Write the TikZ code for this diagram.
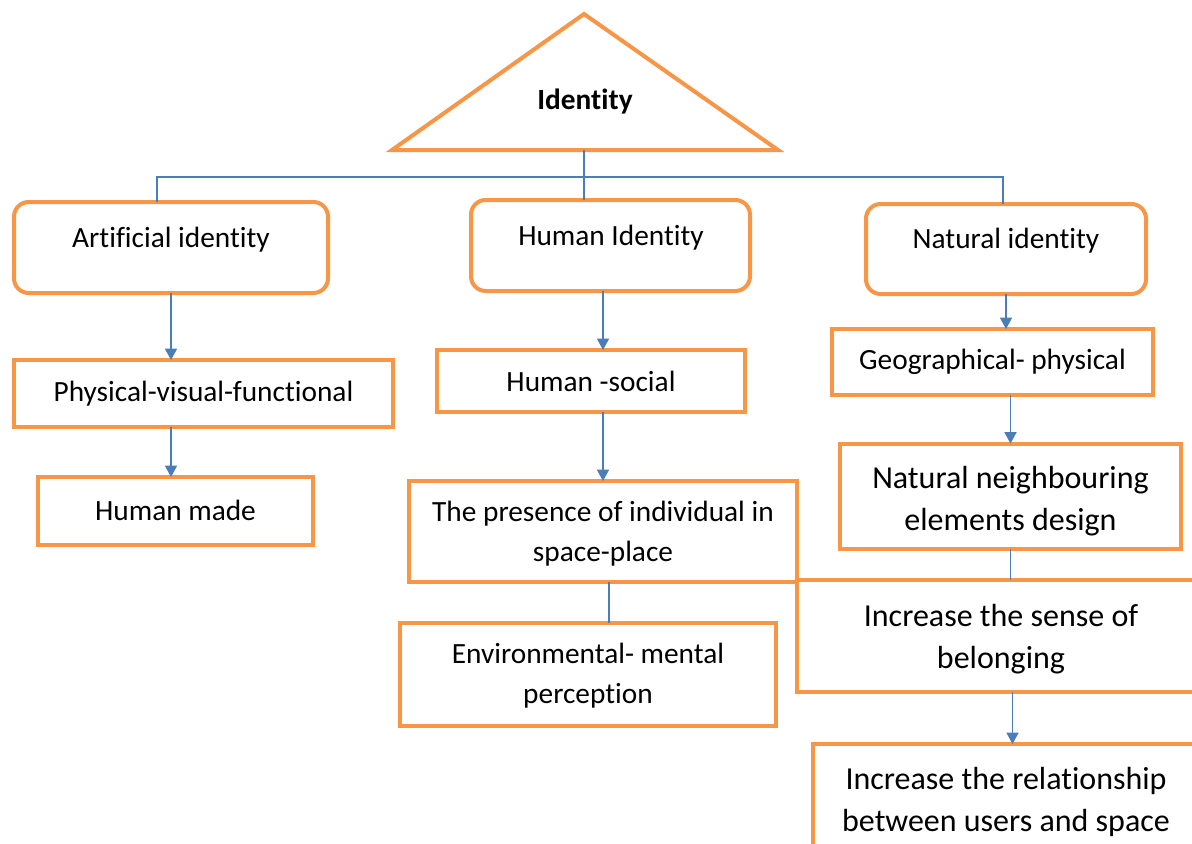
\documentclass[tikz,border=0pt]{standalone}
\usepackage{fontspec}
\setmainfont[Ligatures=NoCommon]{Carlito}
\usetikzlibrary{arrows.meta}
\definecolor{borange}{HTML}{F79646}
\definecolor{lblue}{HTML}{4A7EBB}
\tikzset{
  box/.style={draw=borange, line width=3pt, fill=white, inner sep=0pt, outer sep=0pt, align=center, font=\fontsize{22}{30}\selectfont},
  rbox/.style={box, rounded corners=11pt},
  bigbox/.style={box, font=\fontsize{24}{32}\selectfont},
  lbl/.style={font=\fontsize{22}{30}\selectfont, inner sep=0pt, align=center},
  biglbl/.style={lbl, font=\fontsize{24}{32}\selectfont},
  link/.style={draw=lblue, line width=1.1pt},
  arr/.style={link, -{Triangle[width=9pt,length=8.5pt]}}
}
\begin{document}
\begin{tikzpicture}[x=0.75pt, y=-0.75pt]
\useasboundingbox (0,0) rectangle (1192,843);
\clip (0,0) rectangle (1192,843);
\fill[white] (0,0) rectangle (1192,843);

% triangle
\draw[borange, line width=3pt, line join=miter] (584,14) -- (778,150) -- (392,150) -- cycle;
\node[font=\fontsize{22}{26}\selectfont\bfseries, inner sep=0pt] (idt) at (585,102) {Identity};
\coordinate (tri) at (584,150);
\coordinate (jl) at (157,177);
\coordinate (jr) at (1003,177);

% top level rounded boxes
\node[rbox, minimum width=235.5pt, minimum height=68.25pt] (art) at (171,247.5) {};
\node[lbl] (artT) at (171,240) {Artificial identity};
\node[rbox, minimum width=209.25pt, minimum height=68.25pt] (hid) at (610.5,245.5) {};
\node[lbl] (hidT) at (611,238) {Human Identity};
\node[rbox, minimum width=210pt, minimum height=67.5pt] (nat) at (1006,249) {};
\node[lbl] (natT) at (1006,241) {Natural identity};

% left column
\node[box, minimum width=284.25pt, minimum height=50.25pt] (pvf) at (203.5,393.5) {Physical-visual-functional};
\node[box, minimum width=206.25pt, minimum height=51pt] (hm) at (175.5,511) {};
\node[lbl] (hmT) at (175.5,510) {Human made};

% middle column
\node[box, minimum width=231pt, minimum height=46.5pt] (hs) at (591,381) {Human -social};
\node[box, minimum width=291pt, minimum height=75.75pt] (pres) at (603,531.5) {};
\node[lbl] (presT) at (603,534) {The presence of individual in\\space-place};

% right column
\node[box, minimum width=240.75pt, minimum height=49.5pt] (geo) at (992.5,362) {Geographical- physical};
\node[box, minimum width=255.75pt, minimum height=78.75pt] (nn) at (1010.5,496) {};
\node[biglbl] (nnT) at (1010.5,501) {Natural neighbouring\\elements design};
\node[box, minimum width=306pt, minimum height=84pt] (sense) at (1001,636) {};
\node[biglbl] (senseT) at (1001,639) {Increase the sense of\\belonging};
\node[box, minimum width=282pt, minimum height=77.25pt] (env) at (588,674.5) {};
\node[lbl] (envT) at (588,676) {Environmental- mental\\perception};
\node[box, minimum width=290.25pt, minimum height=87pt] (rel) at (1006.5,802) {};
\node[biglbl] (relT) at (1006,802) {Increase the relationship\\between users and space};
% redraw bottom edge of presence box over sense box
\draw[borange, line width=3pt] (pres.south west) -- (pres.south east);

% connectors
\draw[link] (tri) -- (tri |- hid.north);
\draw[link] ([xshift=-10.5pt]art.north) -- ([xshift=-10.5pt]art.north |- jl) -- (jr) -- (jr |- nat.north);
\draw[arr] (art.south) -- (art.south |- pvf.north);
\draw[arr] (pvf.south -| art.south) -- (hm.north -| art.south);
\draw[arr] (hid.south -| pres.north) -- (hs.north -| pres.north);
\draw[arr] (hs.south -| pres.north) -- (pres.north);
\draw[link] ([xshift=4.5pt]pres.south) -- ([xshift=4.5pt]pres.south |- env.north);
\draw[arr] (nat.south) -- (nat.south |- geo.north);
\draw[arr] (geo.south -| nn.north) -- (nn.north);
\draw[link] (nn.south) -- (nn.south |- sense.north);
\draw[arr] ([xshift=1.5pt]sense.south -| nn.south) -- ([xshift=1.5pt]rel.north -| nn.south);
\end{tikzpicture}
\end{document}
